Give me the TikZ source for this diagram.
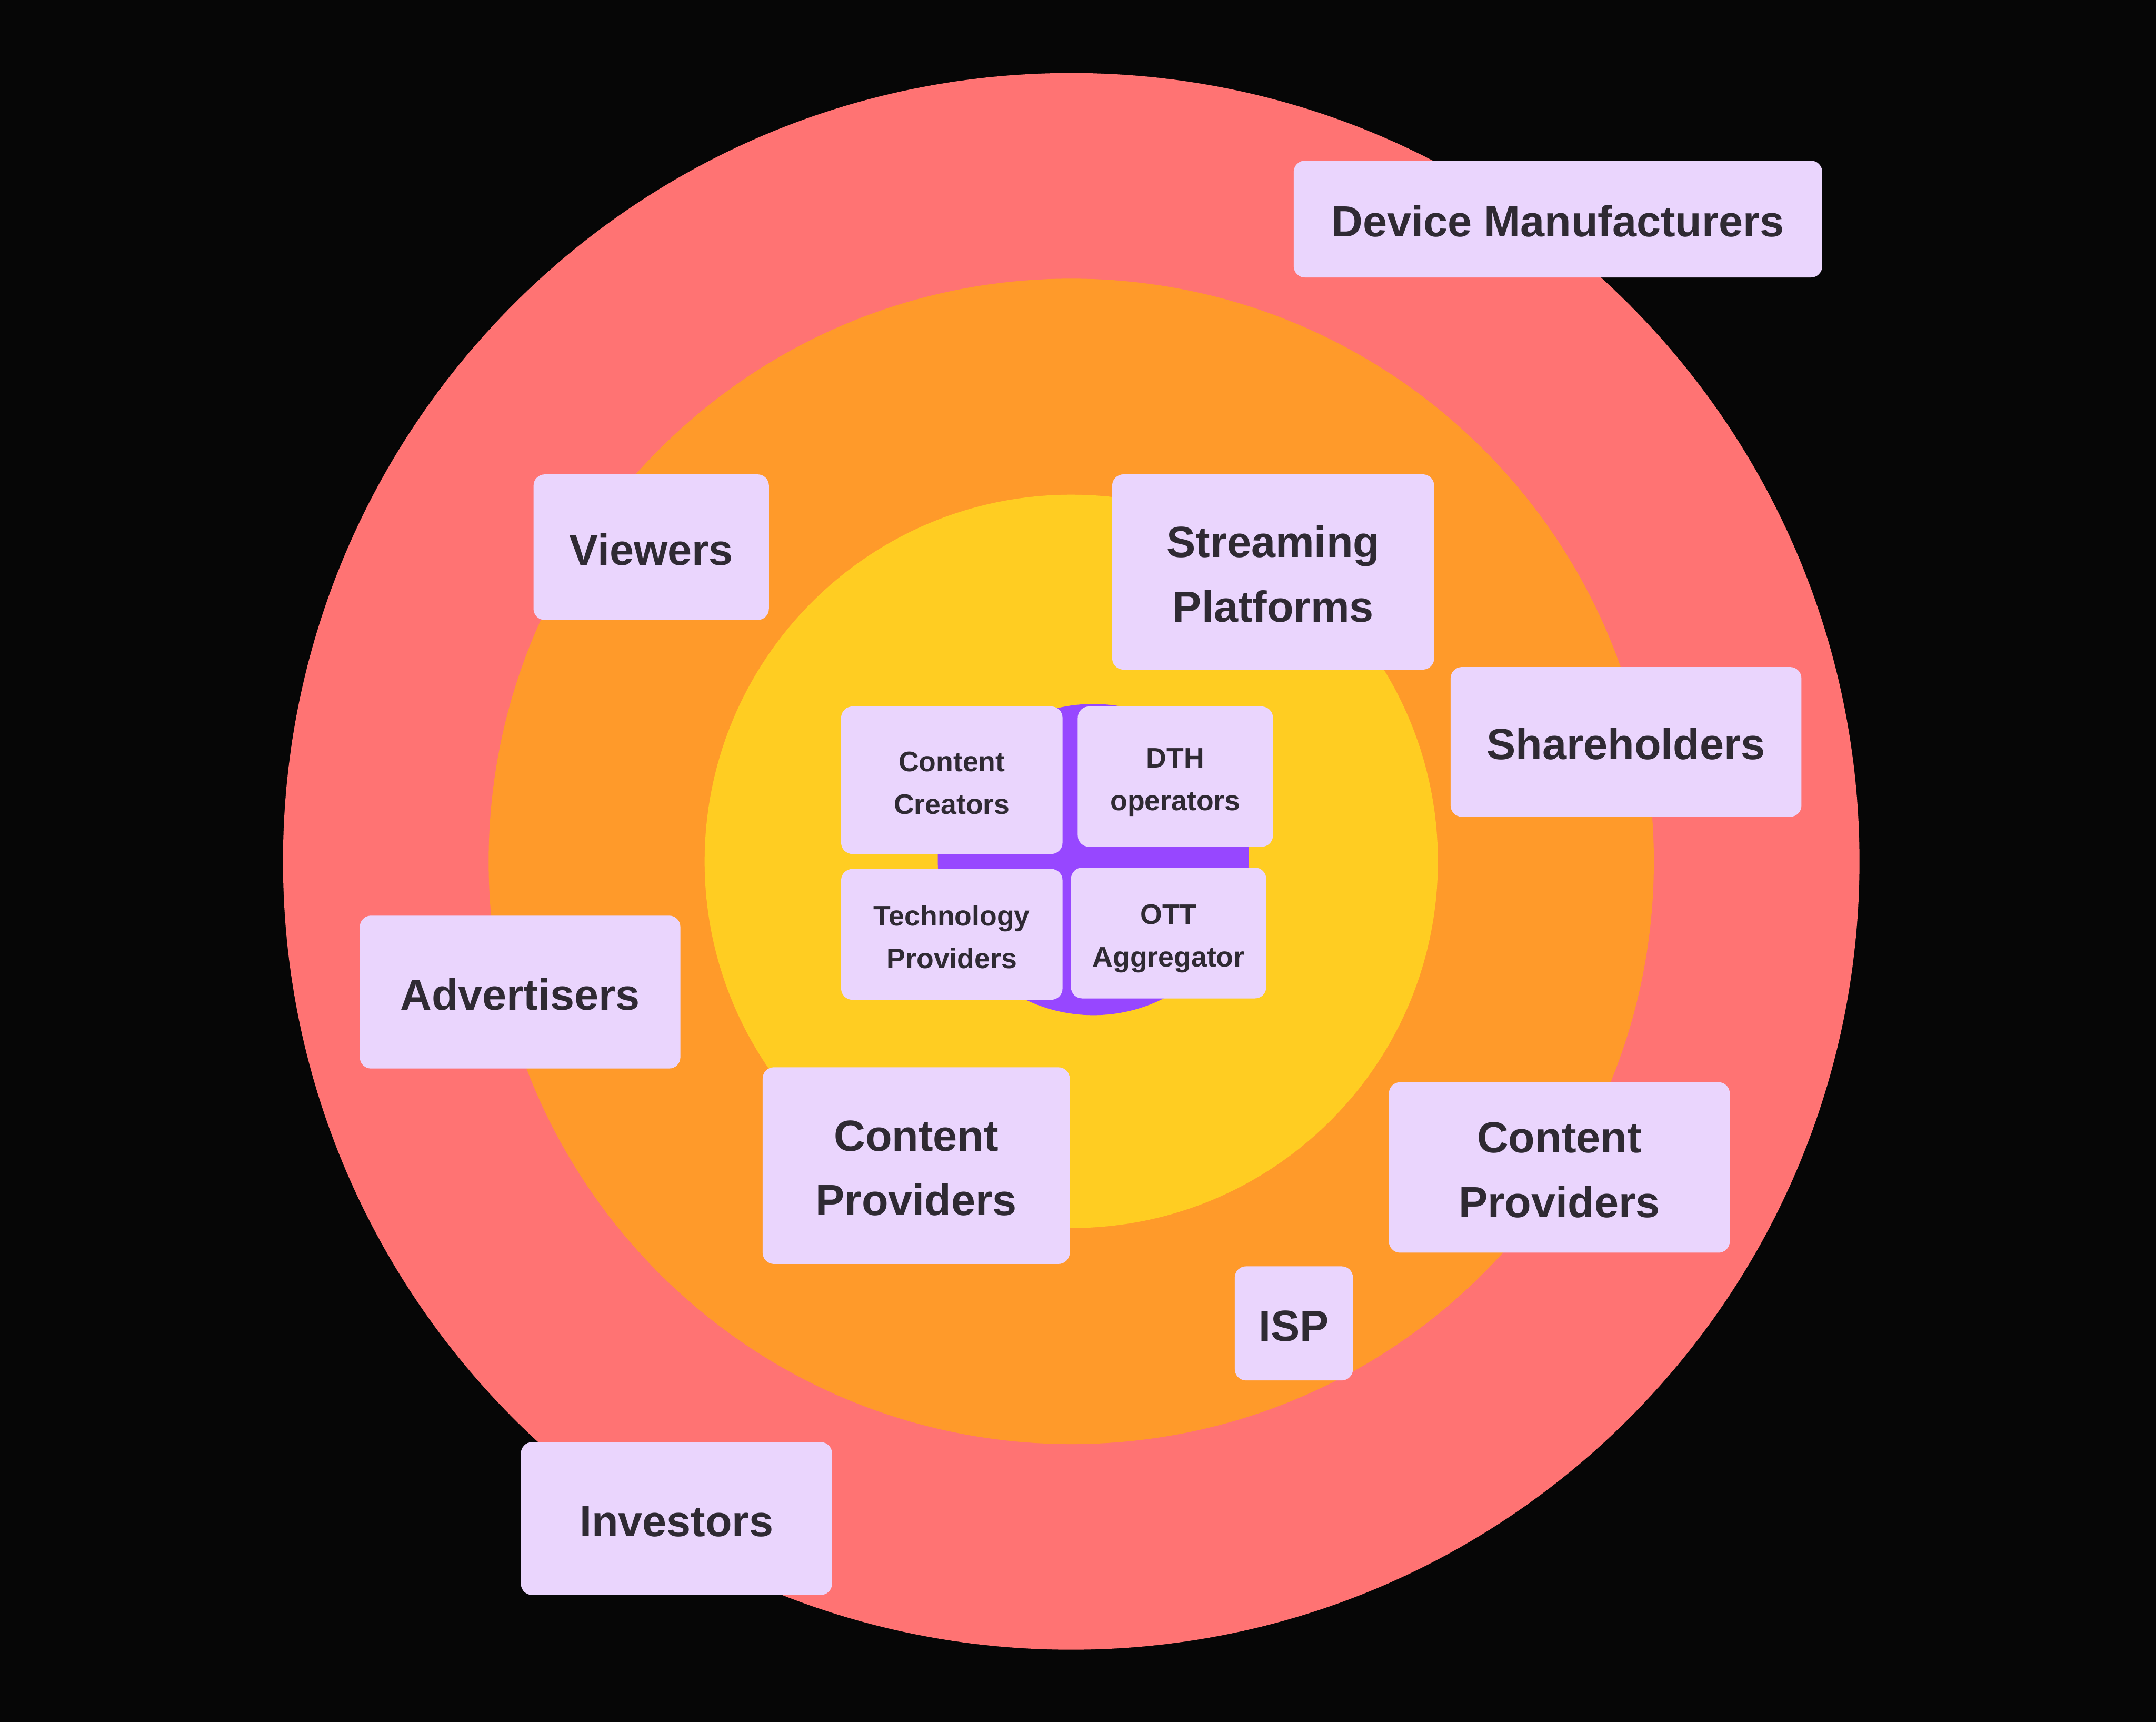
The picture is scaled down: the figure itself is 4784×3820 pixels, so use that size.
\documentclass[tikz,border=0pt]{standalone}
\usepackage{fontspec}
\setmainfont{Liberation Sans}
\definecolor{bgc}{HTML}{060606}
\definecolor{redc}{HTML}{FF7373}
\definecolor{orangec}{HTML}{FF9A2A}
\definecolor{yellowc}{HTML}{FFCD22}
\definecolor{purplec}{HTML}{9747FF}
\definecolor{boxc}{HTML}{EAD5FD}
\definecolor{txtc}{HTML}{2F2A33}
\newcommand\bst{\rule[-8.3pt]{0pt}{38.9pt}}
\newcommand\sst{\rule[-4.1pt]{0pt}{24.1pt}}
\tikzset{
  x=0.01cm, y=-0.01cm,
  lbox/.style={rounded corners=0.25cm, fill=boxc, inner sep=0pt, align=center, text=txtc},
  big/.style={lbox, font=\fontsize{27.5}{40.7}\selectfont\bfseries},
  small/.style={lbox, font=\fontsize{17.8}{26.9}\selectfont\bfseries},
}
\begin{document}
\begin{tikzpicture}
\fill[bgc] (0,0) rectangle (4784,3820);
\useasboundingbox (0,0) rectangle (4784,3820);
\coordinate (c) at (2377,1911);
\fill[redc] (c) circle[radius=17.48cm];
\fill[orangec] (c) circle[radius=12.92cm];
\fill[yellowc] (c) circle[radius=8.13cm];
\fill[purplec] (2426,1907) circle[radius=3.45cm];

\node[big, minimum width=11.72cm, minimum height=2.59cm] (dm) at (3457,486) {\bst Device Manufacturers};
\node[big, minimum width=5.22cm, minimum height=3.23cm] (viewers) at (1445,1214) {\bst Viewers};
\node[big, minimum width=7.14cm, minimum height=4.33cm] (streaming) at (2825,1269) {\bst Streaming\\\bst Platforms};
\node[big, minimum width=7.78cm, minimum height=3.32cm] (shareholders) at (3608,1646) {\bst Shareholders};
\node[small, minimum width=4.91cm, minimum height=3.27cm] (creators) at (2112,1731) {\sst Content\\\sst Creators};
\node[small, minimum width=4.33cm, minimum height=3.11cm] (dth) at (2608,1723) {\sst DTH\\\sst operators};
\node[small, minimum width=4.91cm, minimum height=2.90cm] (tech) at (2112,2073) {\sst Technology\\\sst Providers};
\node[small, minimum width=4.33cm, minimum height=2.90cm] (ott) at (2593,2070) {\sst OTT\\\sst Aggregator};
\node[big, minimum width=7.11cm, minimum height=3.39cm] (advertisers) at (1154,2201) {\bst Advertisers};
\node[big, minimum width=6.81cm, minimum height=4.36cm] (cpl) at (2033,2586) {\bst Content\\\bst Providers};
\node[big, minimum width=7.56cm, minimum height=3.78cm] (cpr) at (3460,2590) {\bst Content\\\bst Providers};
\node[big, minimum width=2.62cm, minimum height=2.53cm] (isp) at (2871,2936) {\bst ISP};
\node[big, minimum width=6.90cm, minimum height=3.39cm] (investors) at (1501,3369) {\bst Investors};
\end{tikzpicture}
\end{document}
